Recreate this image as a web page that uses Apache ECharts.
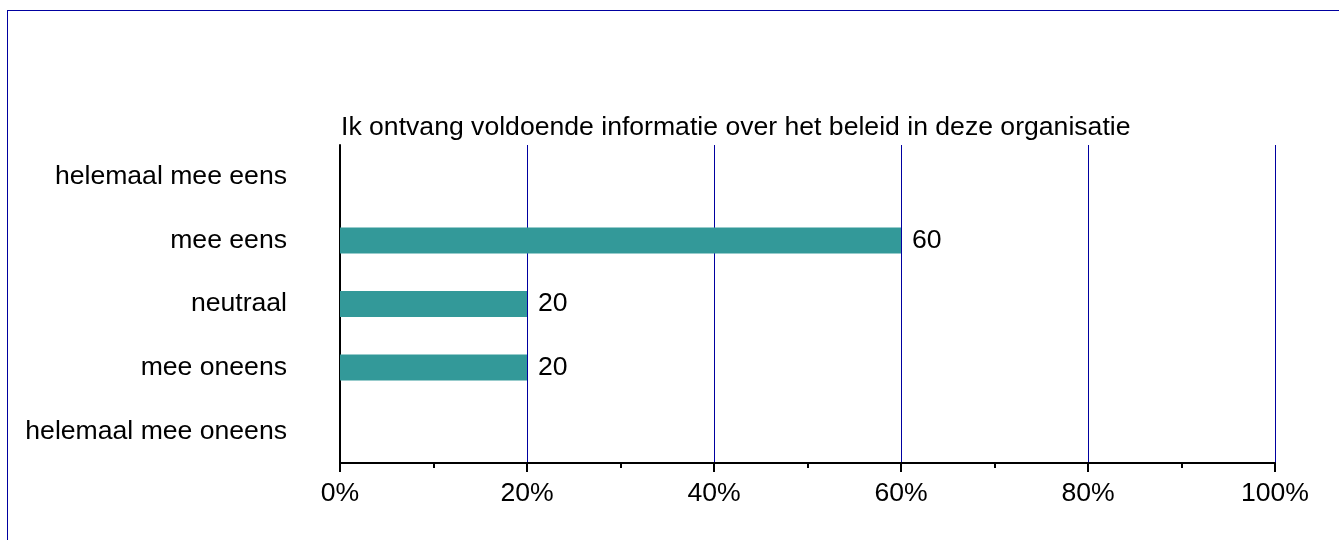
<!DOCTYPE html>
<html lang="nl">
<head>
    <meta charset="UTF-8">
    <title>Beleid informatie</title>
    <script src="https://cdn.jsdelivr.net/npm/echarts@6/dist/echarts.min.js"></script>
    <style type="text/css">
        html, body {
            margin: 0;
            padding: 0;
            width: 1339px;
            height: 540px;
            background: #fff;
            overflow: hidden;
        }
        #frame {
            position: absolute;
            left: 7px;
            top: 10px;
            width: 1400px;
            height: 600px;
            border: 1px solid #0000a0;
        }
        #chart {
            position: absolute;
            left: 0;
            top: 0;
            width: 1339px;
            height: 540px;
        }
    </style>
</head>
<body>
<div id="frame"></div>
<div id="chart"></div>
<script type="text/javascript">
    var titleText = 'Ik ontvang voldoende informatie over het beleid in deze organisatie';
    var categories = ['helemaal mee eens', 'mee eens', 'neutraal', 'mee oneens', 'helemaal mee oneens'];
    var percentages = [0, 60, 20, 20, 0];

    var font = 'Liberation Sans, Arial, sans-serif';
    var fs = 26.6;
    var myChart = echarts.init(document.getElementById('chart'));
    var option = {
        animation: false,
        title: {
            text: titleText,
            left: 336,
            top: 109,
            textStyle: {
                fontFamily: font,
                fontSize: fs,
                fontWeight: 'normal',
                color: '#000'
            }
        },
        // plot width 935 so that gridlines land on whole pixels
        grid: {
            left: 340,
            right: 64,
            top: 145,
            bottom: 77
        },
        xAxis: {
            type: 'value',
            min: 0,
            max: 100,
            interval: 20,
            axisLine: { show: true, lineStyle: { color: '#000', width: 2 } },
            axisTick: { show: true, length: 9, lineStyle: { color: '#000', width: 2 } },
            minorTick: { show: true, splitNumber: 2, length: 5, lineStyle: { color: '#000', width: 2 } },
            splitLine: { show: true, lineStyle: { color: '#0000a0', width: 1 } },
            axisLabel: {
                formatter: '{value}%',
                fontFamily: font,
                fontSize: fs,
                color: '#000',
                margin: 17
            }
        },
        yAxis: {
            type: 'category',
            inverse: true,
            data: categories,
            axisLine: { show: true, lineStyle: { color: '#000', width: 2 } },
            axisTick: { show: false },
            axisLabel: {
                fontFamily: font,
                fontSize: fs,
                color: '#000',
                margin: 53
            }
        },
        series: [
            {
                type: 'bar',
                data: percentages,
                barWidth: 26,
                itemStyle: { color: '#339999' },
                label: {
                    show: true,
                    position: 'right',
                    distance: 11,
                    fontFamily: font,
                    fontSize: fs,
                    color: '#000',
                    formatter: function (p) {
                        return p.value ? p.value : '';
                    }
                }
            }
        ]
    };
    myChart.setOption(option);
</script>
</body>
</html>
